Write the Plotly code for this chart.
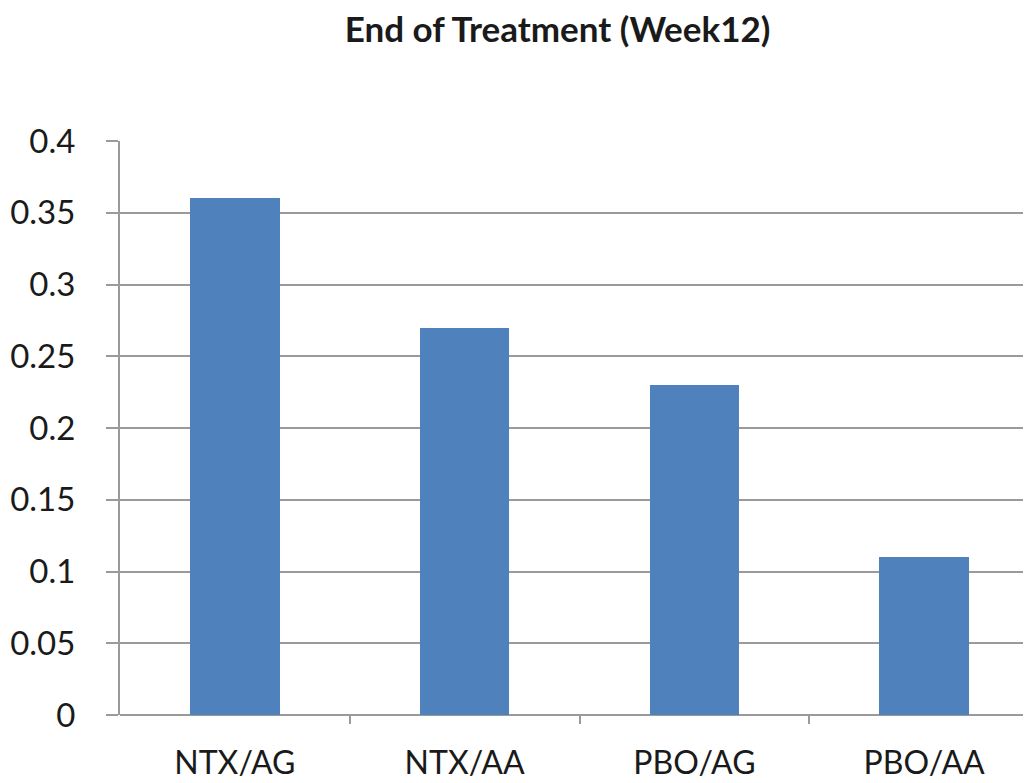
import plotly.graph_objects as go

categories = ["NTX/AG", "NTX/AA", "PBO/AG", "PBO/AA"]
values = [0.36, 0.27, 0.23, 0.11]
y_ticks = [0, 0.05, 0.1, 0.15, 0.2, 0.25, 0.3, 0.35, 0.4]
y_tick_labels = ["0", "0.05", "0.1", "0.15", "0.2", "0.25", "0.3", "0.35", "0.4"]
title_text = "End of Treatment (Week12)"

font_family = "Lato, 'Open Sans', sans-serif"
grid_color = "#9a9a9a"

fig = go.Figure()
fig.add_trace(go.Bar(
    x=list(range(len(categories))),
    y=values,
    width=0.39,
    marker=dict(color="#4F81BD", line=dict(width=0)),
    hoverinfo="x+y",
))

fig.update_layout(
    width=1031,
    height=783,
    paper_bgcolor="white",
    plot_bgcolor="white",
    margin=dict(l=112, r=0, t=133, b=76),
    showlegend=False,
    title=dict(
        text=f"<b>{title_text}</b>",
        x=0.533, xanchor="center",
        y=0.972, yanchor="middle",
        font=dict(family=font_family, size=35, color="#1a1a1a"),
    ),
    bargap=0,
)

fig.update_xaxes(
    range=[-0.5, 3.5],
    automargin=False,
    tickmode="array",
    tickvals=list(range(len(categories))),
    ticktext=categories,
    ticks="",
    showgrid=False,
    showline=False,
    zeroline=False,
    tickfont=dict(family=font_family, size=32, color="#1a1a1a"),
    ticklabelstandoff=26,
    minor=dict(tickmode="array", tickvals=[0.5, 1.5, 2.5], ticks="outside",
               ticklen=8, tickcolor=grid_color, tickwidth=2, showgrid=False),
)

fig.update_yaxes(
    range=[0, 0.4],
    automargin=False,
    tickmode="array",
    tickvals=y_ticks,
    ticktext=y_tick_labels,
    ticks="outside",
    ticklen=12,
    tickcolor=grid_color,
    tickwidth=2,
    showgrid=True,
    gridcolor=grid_color,
    gridwidth=2,
    showline=True,
    linecolor=grid_color,
    linewidth=2,
    zeroline=True,
    zerolinecolor=grid_color,
    zerolinewidth=2,
    tickfont=dict(family=font_family, size=33, color="#1a1a1a"),
    ticklabelstandoff=24,
)

fig.write_html("out.html")
